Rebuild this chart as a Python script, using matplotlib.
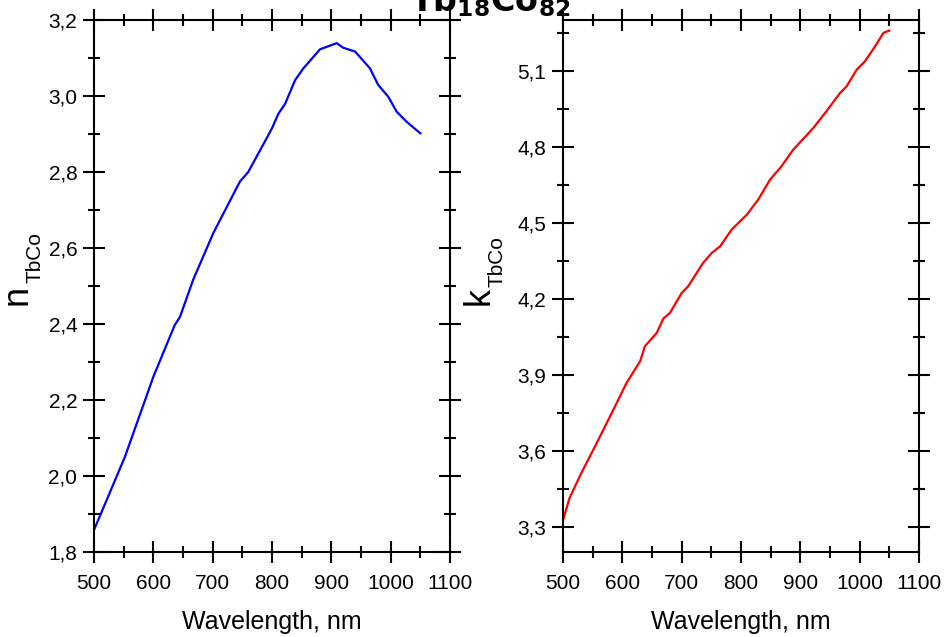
import numpy as np
import matplotlib
matplotlib.use("Agg")
import matplotlib.pyplot as plt
from matplotlib.ticker import MultipleLocator, FuncFormatter

plt.rcParams['font.family'] = ['Liberation Sans', 'DejaVu Sans']

# refractive index n (left panel)
wl_n = [500, 552, 600, 636, 645, 667, 701, 746, 760, 800, 811, 822, 839, 853,
        881, 909, 920, 940, 965, 979, 996, 1010, 1027, 1050]
n_val = [1.858, 2.05, 2.261, 2.397, 2.419, 2.516, 2.639, 2.775, 2.80, 2.915,
         2.954, 2.979, 3.042, 3.073, 3.123, 3.139, 3.127, 3.117, 3.073, 3.029,
         2.998, 2.959, 2.932, 2.902]

# extinction coefficient k (right panel)
wl_k = [500, 511, 531, 554, 585, 607, 630, 638, 658, 669, 680, 700, 711, 736,
        751, 765, 784, 810, 829, 849, 868, 888, 922, 944, 967, 978, 995, 1009,
        1026, 1040, 1050]
k_val = [3.325, 3.413, 3.512, 3.617, 3.762, 3.867, 3.953, 4.012, 4.065, 4.121,
         4.143, 4.222, 4.249, 4.341, 4.381, 4.407, 4.472, 4.532, 4.591, 4.670,
         4.722, 4.788, 4.874, 4.94, 5.012, 5.038, 5.104, 5.137, 5.196, 5.249,
         5.258]

W, H = 947, 637
fig = plt.figure(figsize=(W / 100, H / 100), dpi=100)

def px_axes(x0, x1, y0, y1):
    return fig.add_axes([x0 / W, 1 - y1 / H, (x1 - x0) / W, (y1 - y0) / H])

comma = FuncFormatter(lambda v, p: f"{v:.1f}".replace('.', ','))

def style(ax, ylim, ymaj, ymin):
    ax.set_xlim(500, 1100)
    ax.set_ylim(*ylim)
    ax.xaxis.set_major_locator(MultipleLocator(100))
    ax.xaxis.set_minor_locator(MultipleLocator(50))
    ax.yaxis.set_major_locator(MultipleLocator(ymaj))
    ax.yaxis.set_minor_locator(MultipleLocator(ymin))
    ax.yaxis.set_major_formatter(comma)
    ax.tick_params(which='both', direction='inout', top=True, right=True,
                   width=1.5, labelsize=15, color='black')
    ax.tick_params(which='major', length=16)
    ax.tick_params(axis='x', which='major', pad=8)
    ax.tick_params(axis='y', which='major', pad=4)
    ax.tick_params(which='minor', length=8)
    for s in ax.spines.values():
        s.set_linewidth(1.5)
    ax.set_xlabel("Wavelength, nm", fontsize=18, labelpad=12)

ax1 = px_axes(94, 450, 20, 552)
ax1.plot(wl_n, n_val, color='#0000ff', lw=1.6)
style(ax1, (1.8, 3.2), 0.2, 0.1)

ax2 = px_axes(563, 919, 20, 552)
ax2.plot(wl_k, k_val, color='#ff0000', lw=1.6)
style(ax2, (3.2, 5.3), 0.3, 0.15)

# y labels with small subscripts
fig.text(17 / W, 1 - 295 / H, "n", rotation=90, fontsize=26, ha='center', va='center')
fig.text(35 / W, 1 - 258 / H, "TbCo", rotation=90, fontsize=15, ha='center', va='center')
fig.text(479 / W, 1 - 296 / H, "k", rotation=90, fontsize=26, ha='center', va='center')
fig.text(497 / W, 1 - 262 / H, "TbCo", rotation=90, fontsize=15, ha='center', va='center')

# title, partly cut at top edge as in the original
fig.text(490 / W, 1 - 11 / H, r"$\mathbf{Tb_{18}Co_{82}}$", fontsize=24,
         ha='center', va='baseline')

fig.savefig("out.png", dpi=100)
